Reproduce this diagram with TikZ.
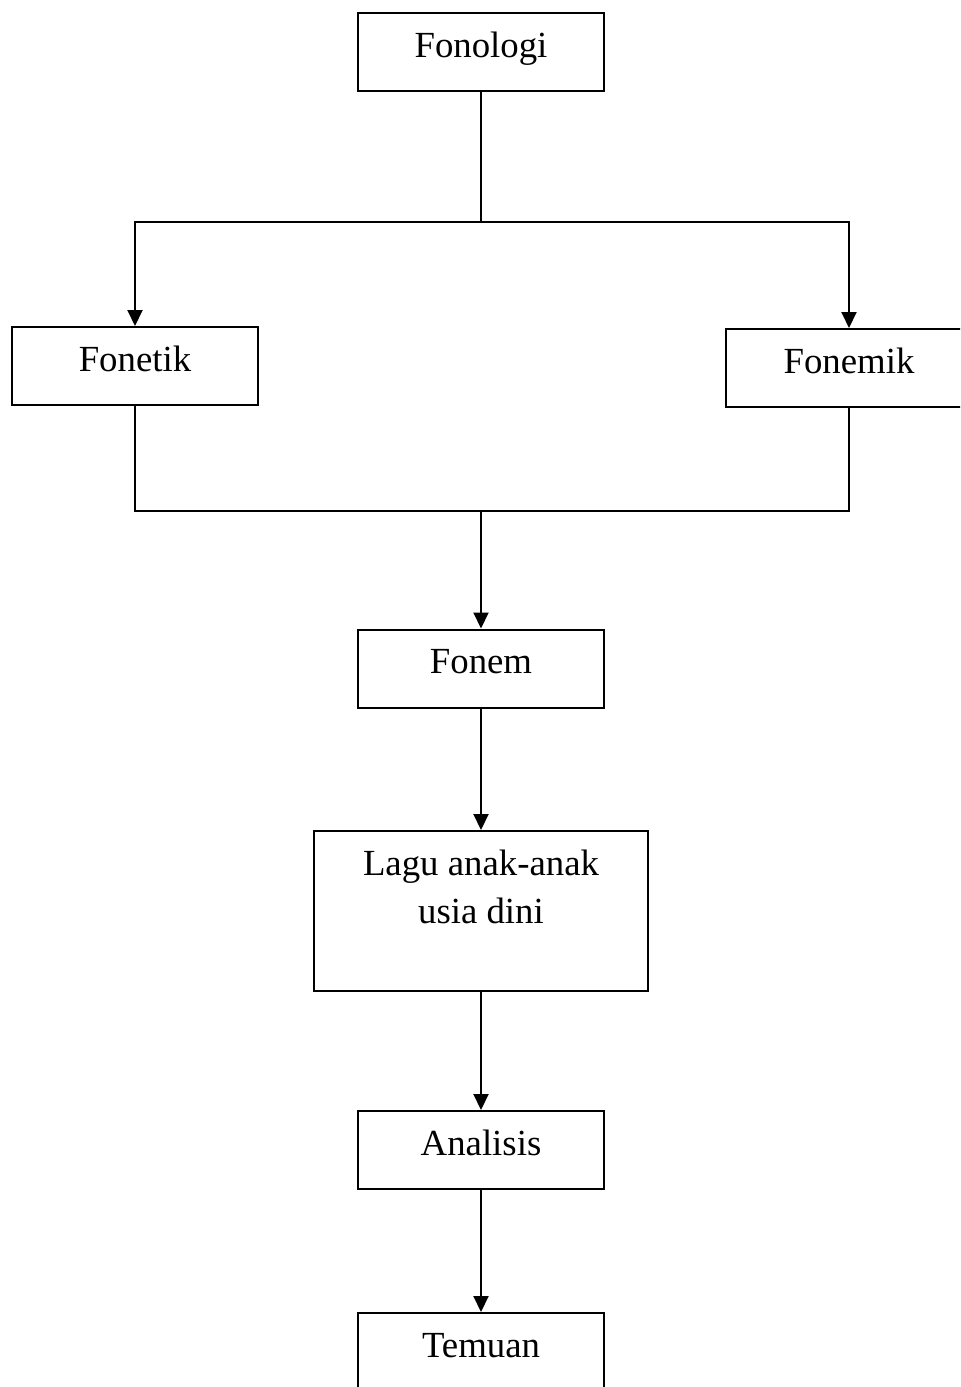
\documentclass[tikz,border=0pt]{standalone}
\usepackage{fontspec}
\setmainfont{Liberation Serif}
\usetikzlibrary{arrows.meta}

\begin{document}
\begin{tikzpicture}[x=0.5pt,y=-0.5pt,
        box/.style={draw,line width=1pt,minimum width=123pt,minimum height=39pt,
            inner sep=0pt,text height=12pt,text depth=7pt,
            font=\fontsize{18.4}{24}\selectfont},
        link/.style={line width=1pt},
        arr/.style={line width=1pt,-{Triangle[length=8pt,width=7.5pt]}}]
                \useasboundingbox (0,0) rectangle (960,1387);
                \clip (0,0) rectangle (960,1387);

                \node[box] (fonologi) at (481,52) {Fonologi};
                \node[box] (fonetik) at (135,366) {Fonetik};
                \node[box] (fonemik) at (849,368) {Fonemik};
                \node[box] (fonem) at (481,668.5) {Fonem};
                \node[box,minimum width=167pt,minimum height=80pt,
                    text height=,text depth=,align=center] (lagu) at (481,911)
                    {Lagu anak-anak\\usia dini\\\mbox{}};
                \node[box] (analisis) at (481,1150) {Analisis};
                \node[box] (temuan) at (481,1352) {Temuan};

                \coordinate (split) at (481,222);
                \coordinate (join) at (481,511);

                \draw[link] (fonologi.south) -- (split);
                \draw[arr] (split) -| (fonetik.north);
                \draw[arr] (split) -| (fonemik.north);

                \draw[link] (fonetik.south) |- (join) -| (fonemik.south);
                \draw[arr] (join) -- (fonem.north);

                \draw[arr] (fonem.south) -- (lagu.north);
                \draw[arr] (lagu.south) -- (analisis.north);
                \draw[arr] (analisis.south) -- (temuan.north);
            \end{tikzpicture}
\end{document}
